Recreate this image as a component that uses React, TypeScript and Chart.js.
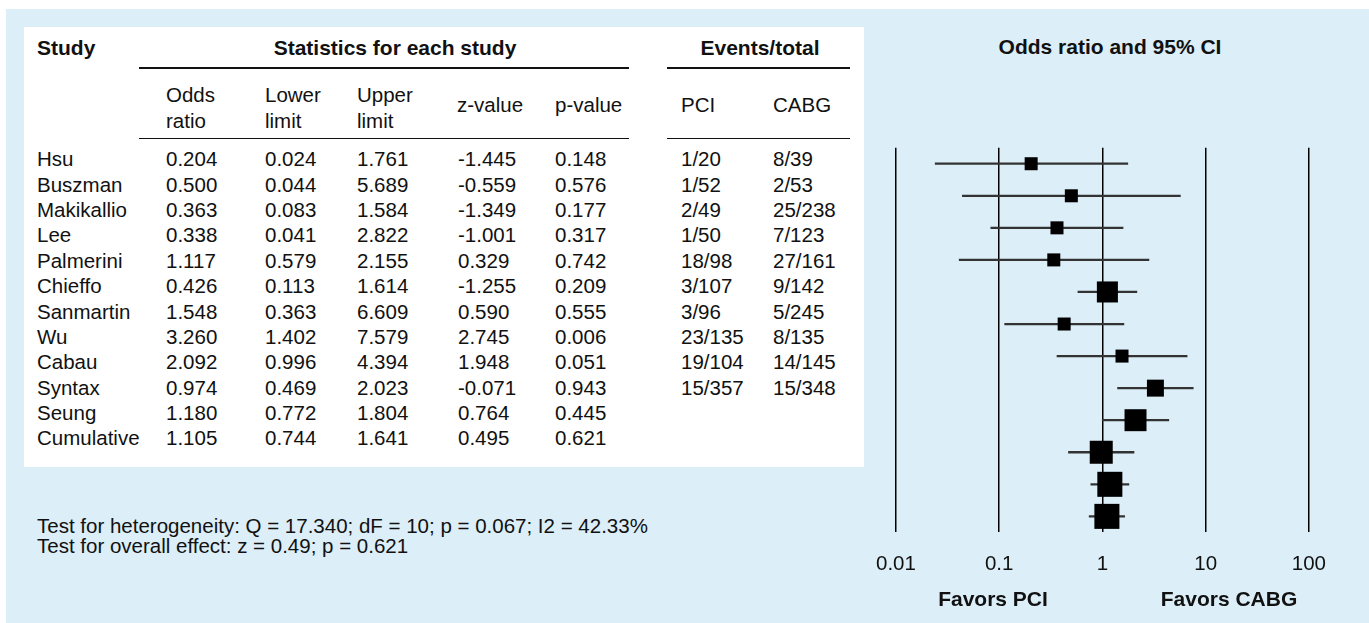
import React, { useEffect, useRef } from "react";
import { Chart, registerables } from "chart.js";

Chart.register(...registerables);

// ---------- data ----------
const studies = [
  "Hsu", "Buszman", "Makikallio", "Lee", "Palmerini", "Chieffo",
  "Sanmartin", "Wu", "Cabau", "Syntax", "Seung", "Cumulative",
];
const oddsRatios = [0.204, 0.5, 0.363, 0.338, 1.117, 0.426, 1.548, 3.26, 2.092, 0.974, 1.18, 1.105];
const lowerLimits = [0.024, 0.044, 0.083, 0.041, 0.579, 0.113, 0.363, 1.402, 0.996, 0.469, 0.772, 0.744];
const upperLimits = [1.761, 5.689, 1.584, 2.822, 2.155, 1.614, 6.609, 7.579, 4.394, 2.023, 1.804, 1.641];
const zValues = [-1.445, -0.559, -1.349, -1.001, 0.329, -1.255, 0.59, 2.745, 1.948, -0.071, 0.764, 0.495];
const pValues = [0.148, 0.576, 0.177, 0.317, 0.742, 0.209, 0.555, 0.006, 0.051, 0.943, 0.445, 0.621];
const pciEvents = [1, 1, 2, 1, 18, 3, 3, 23, 19, 15];
const pciTotals = [20, 52, 49, 50, 98, 107, 96, 135, 104, 357];
const cabgEvents = [8, 2, 25, 7, 27, 9, 5, 8, 14, 15];
const cabgTotals = [39, 53, 238, 123, 161, 142, 245, 135, 145, 348];
// relative study weights (marker area)
const studyWeights = [4.7, 4.7, 4.7, 4.7, 12.3, 4.7, 4.7, 8, 13.4, 14.7, 17.4, 17.4];
const xTickValues = [0.01, 0.1, 1, 10, 100];
const xTickLabels = ["0.01", "0.1", "1", "10", "100"];

const heterogeneityText = "Test for heterogeneity: Q = 17.340; dF = 10; p = 0.067; I2 = 42.33%";
const overallText = "Test for overall effect: z = 0.49; p = 0.621";

// ---------- layout ----------
const FONT = '"Liberation Sans", Arial, Helvetica, sans-serif';
const REG = 20.5;
const BOLD = 21;
const ROW0 = 159.5;
const ROWH = 25.35;

type TP = {
  x: number;
  y: number;
  bold?: boolean;
  center?: boolean;
  children: React.ReactNode;
};

function T({ x, y, bold, center, children }: TP) {
  const s = bold ? BOLD : REG;
  return (
    <div
      style={{
        position: "absolute",
        left: x,
        top: y - 0.5885 * s,
        fontFamily: FONT,
        fontSize: s,
        lineHeight: `${1.2 * s}px`,
        fontWeight: bold ? 700 : 400,
        color: "#111",
        whiteSpace: "nowrap",
        transform: center ? "translateX(-50%)" : undefined,
      }}
    >
      {children}
    </div>
  );
}

function HLine({ x1, x2, y }: { x1: number; x2: number; y: number }) {
  return (
    <div
      style={{
        position: "absolute",
        left: x1,
        top: y - 0.75,
        width: x2 - x1,
        height: 1.5,
        background: "#111",
      }}
    />
  );
}

function ForestChart() {
  const ref = useRef<HTMLCanvasElement | null>(null);
  useEffect(() => {
    if (!ref.current) return;
    const chart = new Chart(ref.current, {
      type: "bar",
      data: {
        labels: studies,
        datasets: [
          {
            type: "scatter",
            data: oddsRatios.map((v, i) => ({ x: v, y: studies[i] })) as any,
            pointStyle: "rect",
            pointRadius: studyWeights.map((w) => (6 * Math.sqrt(w)) / Math.SQRT2),
            pointHoverRadius: studyWeights.map((w) => (6 * Math.sqrt(w)) / Math.SQRT2),
            backgroundColor: "#000",
            borderWidth: 0,
            order: 1,
          } as any,
          {
            type: "bar",
            data: lowerLimits.map((l, i) => [l, upperLimits[i]]) as any,
            backgroundColor: "#333",
            borderWidth: 0,
            barThickness: 1.6,
            order: 2,
          } as any,
        ],
      },
      options: {
        indexAxis: "y",
        responsive: false,
        animation: false,
        events: [],
        layout: { padding: { left: 0, right: 0, top: 14, bottom: 0 } },
        plugins: {
          legend: { display: false },
          tooltip: { enabled: false },
          title: { display: false },
        },
        scales: {
          x: {
            type: "logarithmic",
            min: 0.01,
            max: 100,
            afterBuildTicks: (scale: any) => {
              scale.ticks = xTickValues.map((v) => ({ value: v }));
            },
            ticks: {
              autoSkip: false,
              maxRotation: 0,
              padding: 20,
              color: "#111",
              font: { family: FONT, size: REG },
              callback: (_v: any, i: number) => xTickLabels[i],
            },
            grid: {
              color: "#000",
              lineWidth: 1.5,
              drawTicks: false,
            },
            border: { display: false },
          },
          y: {
            type: "category",
            display: false,
            offset: true,
          },
        },
      } as any,
    });
    return () => chart.destroy();
  }, []);
  return (
    <canvas
      ref={ref}
      width={490}
      height={467}
      style={{ position: "absolute", left: 856, top: 130, width: 490, height: 467 }}
    />
  );
}

export default function App() {
  const colX = { study: 37, or: 166, lo: 265, up: 357, z: 458, p: 555, pci: 681, cabg: 773 };
  return (
    <div
      style={{
        position: "absolute",
        left: 0,
        top: 0,
        width: 1369,
        height: 623,
        background: "#fff",
        overflow: "hidden",
      }}
    >
      <div
        style={{
          position: "absolute",
          left: 6,
          top: 9,
          width: 1369 - 6,
          height: 623 - 9,
          background: "#dceef8",
        }}
      />
      <div
        style={{
          position: "absolute",
          left: 24,
          top: 27,
          width: 864 - 24,
          height: 467 - 27,
          background: "#fff",
        }}
      />

      {/* table headers */}
      <T x={colX.study} y={47} bold>Study</T>
      <T x={395} y={47} bold center>Statistics for each study</T>
      <T x={760} y={47} bold center>Events/total</T>
      <HLine x1={139} x2={629} y={68} />
      <HLine x1={667} x2={850} y={68} />
      <T x={colX.or} y={95.5}>Odds</T>
      <T x={colX.or} y={121}>ratio</T>
      <T x={colX.lo} y={95.5}>Lower</T>
      <T x={colX.lo} y={121}>limit</T>
      <T x={colX.up} y={95.5}>Upper</T>
      <T x={colX.up} y={121}>limit</T>
      <T x={colX.z - 1} y={105}>z-value</T>
      <T x={colX.p} y={105}>p-value</T>
      <T x={colX.pci} y={105}>PCI</T>
      <T x={colX.cabg} y={105}>CABG</T>
      <HLine x1={139} x2={629} y={138.3} />
      <HLine x1={667} x2={850} y={138.3} />

      {studies.map((s, i) => {
        const y = ROW0 + i * ROWH;
        return (
          <React.Fragment key={s}>
            <T x={colX.study} y={y}>{s}</T>
            <T x={colX.or} y={y}>{oddsRatios[i].toFixed(3)}</T>
            <T x={colX.lo} y={y}>{lowerLimits[i].toFixed(3)}</T>
            <T x={colX.up} y={y}>{upperLimits[i].toFixed(3)}</T>
            <T x={colX.z} y={y}>{zValues[i].toFixed(3)}</T>
            <T x={colX.p} y={y}>{pValues[i].toFixed(3)}</T>
            {i < pciEvents.length && (
              <>
                <T x={colX.pci} y={y}>{`${pciEvents[i]}/${pciTotals[i]}`}</T>
                <T x={colX.cabg} y={y}>{`${cabgEvents[i]}/${cabgTotals[i]}`}</T>
              </>
            )}
          </React.Fragment>
        );
      })}

      <T x={37} y={526}>{heterogeneityText}</T>
      <T x={37} y={546}>{overallText}</T>

      {/* forest plot */}
      <T x={1110} y={46.5} bold center>Odds ratio and 95% CI</T>
      <ForestChart />
      <T x={993} y={598} bold center>Favors PCI</T>
      <T x={1229} y={598} bold center>Favors CABG</T>
    </div>
  );
}
